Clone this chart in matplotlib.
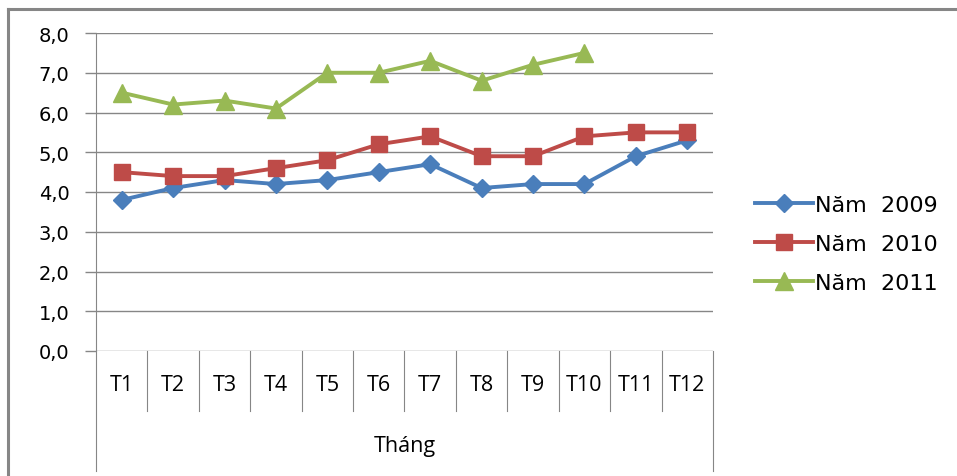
import numpy as np
import matplotlib.pyplot as plt
from matplotlib.lines import Line2D

# Data
months = ["T1", "T2", "T3", "T4", "T5", "T6", "T7", "T8", "T9", "T10", "T11", "T12"]
y2009 = [3.8, 4.1, 4.3, 4.2, 4.3, 4.5, 4.7, 4.1, 4.2, 4.2, 4.9, 5.3]
y2010 = [4.5, 4.4, 4.4, 4.6, 4.8, 5.2, 5.4, 4.9, 4.9, 5.4, 5.5, 5.5]
y2011 = [6.5, 6.2, 6.3, 6.1, 7.0, 7.0, 7.3, 6.8, 7.2, 7.5]
series_names = ["Năm  2009", "Năm  2010", "Năm  2011"]
y_ticks = [0, 1, 2, 3, 4, 5, 6, 7, 8]
x_title = "Tháng"

grey = "#868686"
colors = ["#4A7EBB", "#BE4B48", "#98B954"]

fig = plt.figure(figsize=(9.57, 4.77), dpi=100)
ax = fig.add_axes([96 / 957, 1 - 352 / 477, (713 - 96) / 957, (352 - 34) / 477])

x = np.arange(1, len(months) + 1)
ax.plot(x, y2009, color=colors[0], lw=2.8, marker="D", ms=9, label=series_names[0])
ax.plot(x, y2010, color=colors[1], lw=2.8, marker="s", ms=12, label=series_names[1])
ax.plot(x[:len(y2011)], y2011, color=colors[2], lw=2.8, marker="^", ms=13, label=series_names[2])

ax.set_xlim(0.5, len(months) + 0.5)
ax.set_ylim(0, 8)
ax.set_yticks(y_ticks)
ax.set_yticklabels([f"{v:.1f}".replace(".", ",") for v in y_ticks],
                   family="DejaVu Sans", fontsize=14)
ax.yaxis.grid(True, color=grey, lw=1)
ax.set_axisbelow(True)
ax.tick_params(axis="y", length=8, color=grey, width=1, pad=11)

for s in ["top", "right", "bottom"]:
    ax.spines[s].set_visible(False)
ax.spines["left"].set_color(grey)

# category table under the plot
ax.set_xticks([])
tr = ax.get_xaxis_transform()
px = 1 / 318
for xi, m in zip(x, months):
    ax.text(xi, -34 * px, m, transform=tr, ha="center", va="center",
            family="Open Sans", fontsize=15.5)
for b in np.arange(1.5, len(months), 1.0):
    ax.plot([b, b], [0, -60 * px], color=grey, lw=0.8, transform=tr, clip_on=False)
for b in [0.5, len(months) + 0.5]:
    ax.plot([b, b], [0, -120 * px], color=grey, lw=0.8, transform=tr, clip_on=False)
ax.text(0.5, -95 * px, x_title, transform=ax.transAxes, ha="center", va="center",
        family="Open Sans", fontsize=15.5)

# outer frame (top and left edges visible)
fig.add_artist(Line2D([8 / 957, 8 / 957], [0, 1 - 10 / 477], color=grey, lw=2.2))
fig.add_artist(Line2D([8 / 957, 1], [1 - 10 / 477, 1 - 10 / 477], color=grey, lw=2.2))

leg = fig.legend(loc="center left", bbox_to_anchor=(735 / 957, 1 - 245 / 477),
                 frameon=False, prop={"family": "DejaVu Sans", "size": 16},
                 handlelength=2.6, handletextpad=0.1, labelspacing=0.85)

fig.savefig("out.png", dpi=100)
